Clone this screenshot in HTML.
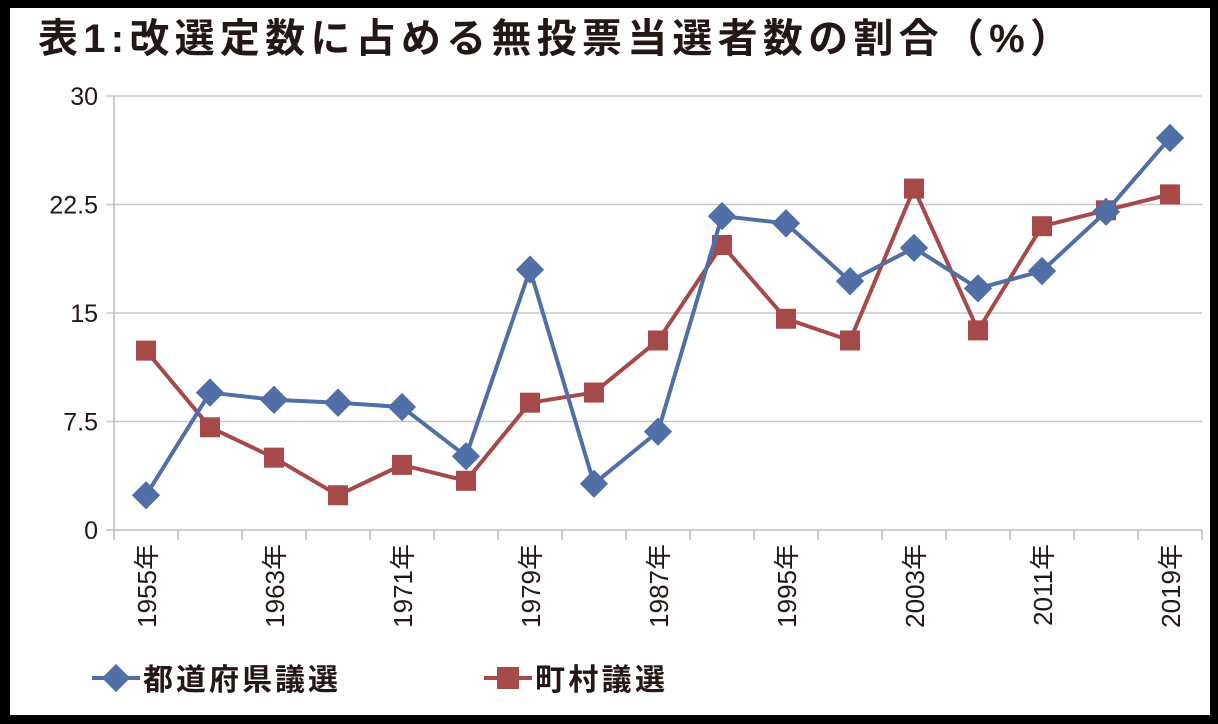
<!DOCTYPE html>
<html><head><meta charset="utf-8"><style>
html,body{margin:0;padding:0;background:#000;}
#wrap{position:absolute;left:10px;top:8px;width:1200px;height:707px;background:#fff;}
text{font-family:"Liberation Sans","Noto Sans CJK JP",sans-serif;}
</style></head><body>
<div id="wrap"></div>
<svg id="c" width="1218" height="724" style="position:absolute;left:0;top:0">
<text x="38" y="52" font-size="40" font-weight="bold" fill="#231815" textLength="1032" lengthAdjust="spacing">表1:改選定数に占める無投票当選者数の割合（%）</text>
<g id="grid"></g><g id="axes"></g><g id="series"></g>
<g>
<line x1="92" y1="678" x2="140" y2="678" stroke="#4F6FA6" stroke-width="4"/>
<rect x="106" y="668" width="20" height="20" fill="#4F6FA6" transform="rotate(45 116 678)"/>
<text x="143" y="690" font-size="30" font-weight="bold" fill="#231815" textLength="195" lengthAdjust="spacing">都道府県議選</text>
<line x1="484" y1="678" x2="532" y2="678" stroke="#A54A49" stroke-width="4"/>
<rect x="497" y="667" width="22" height="22" fill="#A54A49"/>
<text x="535" y="690" font-size="30" font-weight="bold" fill="#231815" textLength="130" lengthAdjust="spacing">町村議選</text>
</g>
</svg>
<script>
const categories=[1955,1959,1963,1967,1971,1975,1979,1983,1987,1991,1995,1999,2003,2007,2011,2015,2019];
const prefectureValues=[2.4,9.5,9.0,8.8,8.5,5.1,18.0,3.2,6.8,21.7,21.2,17.2,19.5,16.7,17.9,22.0,27.1];
const townValues=[12.4,7.1,5.0,2.4,4.5,3.4,8.8,9.5,13.1,19.7,14.6,13.1,23.6,13.8,21.0,22.1,23.2];
const yTicks=[0,7.5,15,22.5,30];
const yTickLabels=["0","7.5","15","22.5","30"];
const NS="http://www.w3.org/2000/svg";
const L=114,R=1202,T=96,B=530,yMax=30;
const step=(R-L)/categories.length;
const xs=i=>L+step*(i+0.5);
const ys=v=>B-(v/yMax)*(B-T);
function mk(tag,attrs,parent){const e=document.createElementNS(NS,tag);for(const k in attrs)e.setAttribute(k,attrs[k]);parent.appendChild(e);return e;}
const grid=document.getElementById('grid'),axes=document.getElementById('axes'),series=document.getElementById('series');
yTicks.forEach((t,i)=>{
  const g=mk('line',{x1:L-8,x2:R,y1:ys(t),y2:ys(t),stroke:t===0?'#bbb':'#c8c8c8','stroke-width':1.5},grid);
  
  
  const tx=mk('text',{x:L-16,y:ys(t)+9,'font-size':25,'text-anchor':'end',fill:'#231815'},axes);
  tx.textContent=yTickLabels[i];
  
  
});
const ax=mk('line',{x1:L,x2:L,y1:T,y2:B,stroke:'#bbb','stroke-width':1.5},axes);


for(let i=0;i<=categories.length;i++){
  const x=L+step*i;
  const tk=mk('line',{x1:x,x2:x,y1:B,y2:B+10,stroke:'#bbb','stroke-width':1.5},axes);
  
  
}
categories.forEach((c,i)=>{
  if(i%2)return;
  const x=xs(i)+10,y=544;
  const tx=mk('text',{x:x,y:y,'font-size':26,'text-anchor':'end',fill:'#231815',transform:`rotate(-90 ${x} ${y})`},axes);
  tx.textContent=c+'年';
  
  
});
function drawSeries(vals,color,name,shape){
  const pl=mk('polyline',{points:vals.map((v,i)=>xs(i)+','+ys(v)).join(' '),fill:'none',stroke:color,'stroke-width':4,'stroke-linejoin':'round'},series);
  
  
  vals.forEach((v,i)=>{
    const x=xs(i),y=ys(v);let m;
    if(shape==='d')m=mk('rect',{x:x-10,y:y-10,width:20,height:20,fill:color,transform:`rotate(45 ${x} ${y})`},series);
    else m=mk('rect',{x:x-10,y:y-10,width:20,height:20,fill:color},series);
    
    
  });
}
drawSeries(townValues,'#A54A49','town','s');
drawSeries(prefectureValues,'#4F6FA6','prefecture','d');
</script>
</body></html>
